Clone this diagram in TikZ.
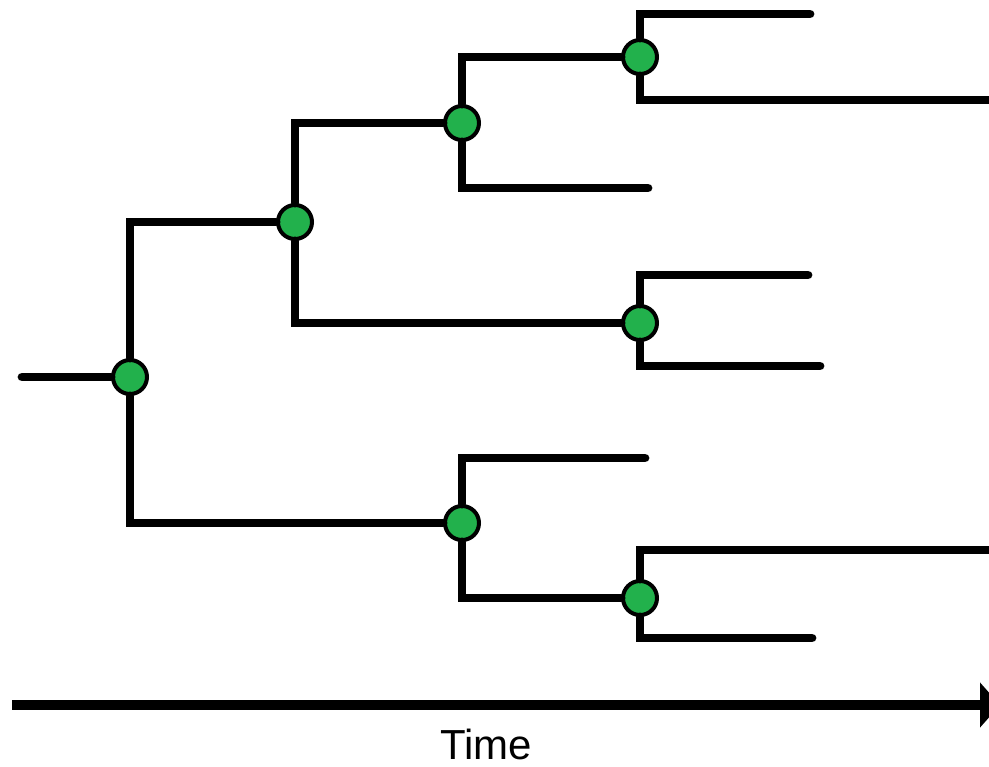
\documentclass[tikz,border=0pt]{standalone}
\usepackage{tikz}
\usepackage{xcolor}
\usepackage{fontspec}
\setmainfont{Liberation Sans}
\usetikzlibrary{arrows.meta,positioning}
\definecolor{splitgreen}{RGB}{34,177,76}

\begin{document}
\begin{tikzpicture}[x=0.5pt, y=-0.5pt,
		branch/.style={line width=4.4pt, line cap=round, line join=miter},
		split/.style={circle, draw, line width=2pt, fill=splitgreen, minimum size=17pt, inner sep=0pt}]
	\useasboundingbox (0,0) rectangle (989,766);
	% splitting events
	\node[split] (a) at (130,377) {};
	\node[split] (b) at (295,222) {};
	\node[split] (c) at (462,123) {};
	\node[split] (d) at (640,57) {};
	\node[split] (e) at (640,323) {};
	\node[split] (f) at (462,523) {};
	\node[split] (g) at (640,598) {};
	% tips
	\coordinate (root) at (22,377);
	\coordinate (d1) at (810,14);
	\coordinate (d2) at (995,100);
	\coordinate (c2) at (648,188);
	\coordinate (e1) at (808,275);
	\coordinate (e2) at (820,366);
	\coordinate (f1) at (645,458);
	\coordinate (g1) at (995,550);
	\coordinate (g2) at (812,638);
	% branches
	\draw[branch] (root) -- (a);
	\draw[branch] (a) |- (b);
	\draw[branch] (a) |- (f);
	\draw[branch] (b) |- (c);
	\draw[branch] (b) |- (e);
	\draw[branch] (c) |- (d);
	\draw[branch] (c) |- (c2);
	\draw[branch] (d) |- (d1);
	\draw[branch] (d) |- (d2);
	\draw[branch] (e) |- (e1);
	\draw[branch] (e) |- (e2);
	\draw[branch] (f) |- (f1);
	\draw[branch] (f) |- (g);
	\draw[branch] (g) |- (g1);
	\draw[branch] (g) |- (g2);
	% time axis
	\coordinate (t0) at (12,705);
	\coordinate (t1) at (1000,705);
	\draw[line width=5pt, -{Triangle[width=22pt, length=10pt]}] (t0) -- (t1);
	\node[font=\fontsize{21}{24}\selectfont, inner sep=0pt] (time) at (486,744) {Time};
\end{tikzpicture}
\end{document}
